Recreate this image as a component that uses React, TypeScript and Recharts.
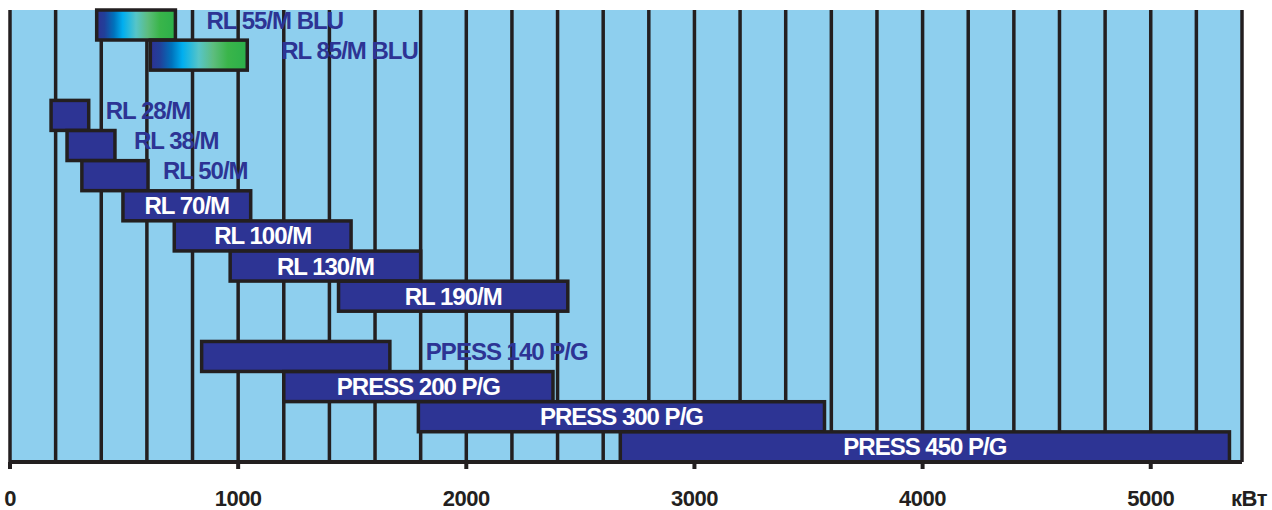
import { Bar, BarChart, CartesianGrid, XAxis, YAxis } from "recharts";

// burner models, top to bottom (null = empty row)
const models = [
  "RL 55/M BLU",
  "RL 85/M BLU",
  null,
  "RL 28/M",
  "RL 38/M",
  "RL 50/M",
  "RL 70/M",
  "RL 100/M",
  "RL 130/M",
  "RL 190/M",
  null,
  "PPESS 140 P/G",
  "PRESS 200 P/G",
  "PRESS 300 P/G",
  "PRESS 450 P/G",
];
// power range, kW
const minPower = [380, 615, null, 180, 250, 315, 495, 720, 965, 1440, null, 840, 1200, 1790, 2675];
const maxPower = [725, 1040, null, 345, 460, 605, 1055, 1495, 1800, 2445, null, 1665, 2380, 3570, 5345];

const xTicks = Array.from({ length: 28 }, (_, i) => i * 200);

// label styling: models with gradient fill, and labels drawn to the right of the bar (gap in px)
const gradientModels = ["RL 55/M BLU", "RL 85/M BLU"];
const outsideLabelGap: Record<string, number> = {
  "RL 55/M BLU": 31,
  "RL 85/M BLU": 34,
  "RL 28/M": 17,
  "RL 38/M": 19,
  "RL 50/M": 15,
  "PPESS 140 P/G": 36,
};

const data = models.map((m, i) => ({
  model: m ?? `gap${i}`,
  range: minPower[i] == null ? null : [minPower[i], maxPower[i]],
}));

const INK = "#231f20";
const BLUE = "#2d3494";
const SKY = "#8ecfee";
const FONT = "'Liberation Sans', Arial, sans-serif";

function BurnerBar(props: any) {
  const { x, y, width, height, payload } = props;
  if (!payload || !payload.range) return <g />;
  const name: string = payload.model;
  const fill = gradientModels.includes(name) ? "url(#bluGrad)" : BLUE;
  const gap = outsideLabelGap[name];
  const cy = y + height / 2;
  return (
    <g>
      <rect x={x} y={y} width={width} height={height} fill={fill} stroke={INK} strokeWidth={3.5} />
      {gap != null ? (
        <text
          x={x + width + gap}
          y={cy + 3.5}
          fill={BLUE}
          fontFamily={FONT}
          fontWeight="bold"
          fontSize={24}
          letterSpacing={-1}
        >
          {name}
        </text>
      ) : (
        <text
          x={x + width / 2}
          y={cy + 8.5}
          textAnchor="middle"
          fill="#fff"
          fontFamily={FONT}
          fontWeight="bold"
          fontSize={24}
          letterSpacing={-1}
        >
          {name}
        </text>
      )}
    </g>
  );
}

function PowerTick(props: any) {
  const { x, y, payload } = props;
  if (payload.value % 1000 !== 0 || payload.value > 5000) return <g />;
  return (
    <g>
      <line x1={x} x2={x} y1={y} y2={y + 7} stroke={INK} strokeWidth={4} />
      <text
        x={x}
        y={y + 44}
        textAnchor="middle"
        fill={INK}
        fontFamily={FONT}
        fontWeight="bold"
        fontSize={22}
        letterSpacing={-0.5}
      >
        {payload.value}
      </text>
    </g>
  );
}

export default function App() {
  return (
    <div style={{ position: "absolute", left: 0, top: 0, width: 1272, height: 510, background: "#fff" }}>
      <BarChart
        width={1272}
        height={510}
        data={data}
        layout="vertical"
        margin={{ top: 10, right: 30, bottom: 0, left: 10 }}
        barCategoryGap={0}
        barGap={0}
      >
        <defs>
          <linearGradient id="bluGrad" x1="0" y1="0" x2="1" y2="0">
            <stop offset="0" stopColor="#2e3192" />
            <stop offset="0.1" stopColor="#21409a" />
            <stop offset="0.22" stopColor="#0072bc" />
            <stop offset="0.33" stopColor="#00aeef" />
            <stop offset="0.5" stopColor="#56c5c8" />
            <stop offset="0.65" stopColor="#5dbd7e" />
            <stop offset="0.8" stopColor="#3ab54a" />
            <stop offset="1" stopColor="#2bb04a" />
          </linearGradient>
        </defs>
        <CartesianGrid
          horizontal={false}
          fill={SKY}
          fillOpacity={1}
          stroke={INK}
          strokeWidth={3.5}
        />
        <XAxis
          type="number"
          domain={[0, 5400]}
          ticks={xTicks}
          interval={0}
          height={48}
          tickSize={0}
          tickMargin={0}
          tickLine={false}
          axisLine={{ stroke: INK, strokeWidth: 4 }}
          tick={<PowerTick />}
          label={(p: any) => {
            const vb = p.viewBox;
            return (
              <text
                x={vb.x + vb.width + 25}
                y={vb.y + 44}
                textAnchor="end"
                fill={INK}
                fontFamily={FONT}
                fontWeight="bold"
                fontSize={22}
                letterSpacing={-0.5}
              >
                кВт
              </text>
            );
          }}
        />
        <XAxis
          xAxisId="top"
          orientation="top"
          type="number"
          domain={[0, 5400]}
          height={0}
          tick={false}
          tickLine={false}
          axisLine={{ stroke: INK, strokeWidth: 4 }}
        />
        <YAxis type="category" dataKey="model" hide />
        <Bar dataKey="range" shape={<BurnerBar />} isAnimationActive={false} />
      </BarChart>
    </div>
  );
}
